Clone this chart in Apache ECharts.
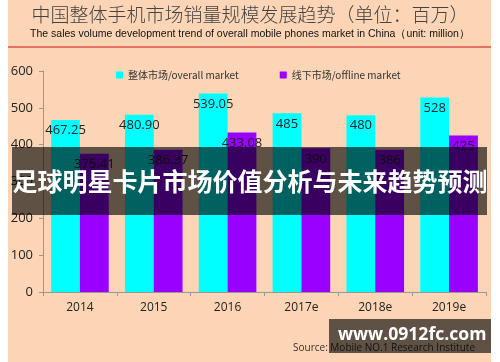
<!DOCTYPE html>
<html><head><meta charset="utf-8">
<script src="https://cdn.jsdelivr.net/npm/echarts@6/dist/echarts.min.js"></script>
<style>html,body{margin:0;padding:0;background:#fff}#c{width:500px;height:362px}</style>
</head><body><div id="c"></div>
<script>
const categories = ['2014', '2015', '2016', '2017e', '2018e', '2019e'];
const overallMarket = [467.25, 480.90, 539.05, 485, 480, 528];
const offlineMarket = [375.41, 386.37, 433.08, 390, 386, 425];
const overallLabels = ['467.25', '480.90', '539.05', '485', '480', '528'];
const offlineLabels = ['375.41', '386.37', '433.08', '390', '386', '425'];
const yTicks = [0, 100, 200, 300, 400, 500, 600];

const chart = echarts.init(document.getElementById('c'), null, {renderer: 'canvas'});
const labelStyle = (arr) => ({
  show: true, position: 'insideTop', distance: 4, color: '#222', fontSize: 13,
  fontFamily: 'Open Sans, sans-serif',
  formatter: p => arr[p.dataIndex]
});
chart.setOption({
  backgroundColor: '#ffffff',
  animation: false,
  graphic: [
    {type: 'rect', z: -10, shape: {x: 8, y: 0, width: 483, height: 362}, style: {fill: '#fbd5b5'}},
    {type: 'line', z: 1, shape: {x1: 8, y1: 47, x2: 491, y2: 47}, style: {stroke: '#e0504a', lineWidth: 1.5}},
    {type: 'text', left: 'center', top: 5, style: {text: '中国整体手机市场销量规模发展趋势（单位：百万）', fill: '#444', font: '300 19px "Noto Sans CJK SC"'}},
    {type: 'text', left: 'center', top: 29, style: {text: 'The sales volume development trend of overall mobile phones market in China（unit: million）', fill: '#111', font: '10.5px "Liberation Sans", Arial'}},
    {type: 'text', right: 25, top: 343, z: 5, style: {text: 'Source: Mobile NO.1 Research Institute', fill: '#333', font: '10px "Open Sans", sans-serif'}},
    {type: 'rect', z: 100, shape: {x: 12, y: 147, width: 475, height: 68}, style: {fill: 'rgba(0,0,0,0.62)'}},
    {type: 'text', z: 101, left: 'center', top: 169, style: {text: '足球明星卡片市场价值分析与未来趋势预测', fill: '#fff', font: 'bold 25px "Noto Sans CJK SC"'}},
    {type: 'rect', z: 100, shape: {x: 329, y: 319, width: 162, height: 34}, style: {fill: 'rgba(0,0,0,0.62)'}},
    {type: 'text', z: 101, left: 338, top: 326, style: {text: 'www.0912fc.com', fill: '#fff', font: 'bold 17.6px "Open Sans", sans-serif'}}
  ],
  legend: {
    top: 65, left: 111, itemWidth: 7, itemHeight: 7, itemGap: 41, icon: 'rect',
    textStyle: {fontSize: 10, color: '#333', fontFamily: 'Noto Sans CJK SC'},
    data: ['整体市场/overall market', '线下市场/offline market']
  },
  grid: {left: 43, right: 14, top: 71, bottom: 70},
  xAxis: {
    type: 'category', data: categories,
    axisLine: {lineStyle: {color: '#999'}},
    axisTick: {show: true, length: 4, lineStyle: {color: '#999'}},
    axisLabel: {color: '#222', fontSize: 12, margin: 10, fontFamily: 'Open Sans, sans-serif'}
  },
  yAxis: {
    type: 'value', min: 0, max: 600, interval: 100,
    splitLine: {show: false},
    axisLine: {show: true, lineStyle: {color: '#999'}},
    axisTick: {show: true, length: 4, lineStyle: {color: '#999'}},
    axisLabel: {color: '#222', fontSize: 13, margin: 10, fontFamily: 'Open Sans, sans-serif',
      formatter: v => yTicks.includes(v) ? String(v) : ''}
  },
  series: [
    {name: '整体市场/overall market', type: 'bar', data: overallMarket, barGap: '0%', barCategoryGap: '22%',
      itemStyle: {color: '#00ffff'}, label: labelStyle(overallLabels)},
    {name: '线下市场/offline market', type: 'bar', data: offlineMarket,
      itemStyle: {color: '#9900ff'}, label: labelStyle(offlineLabels)}
  ]
});
</script></body></html>
